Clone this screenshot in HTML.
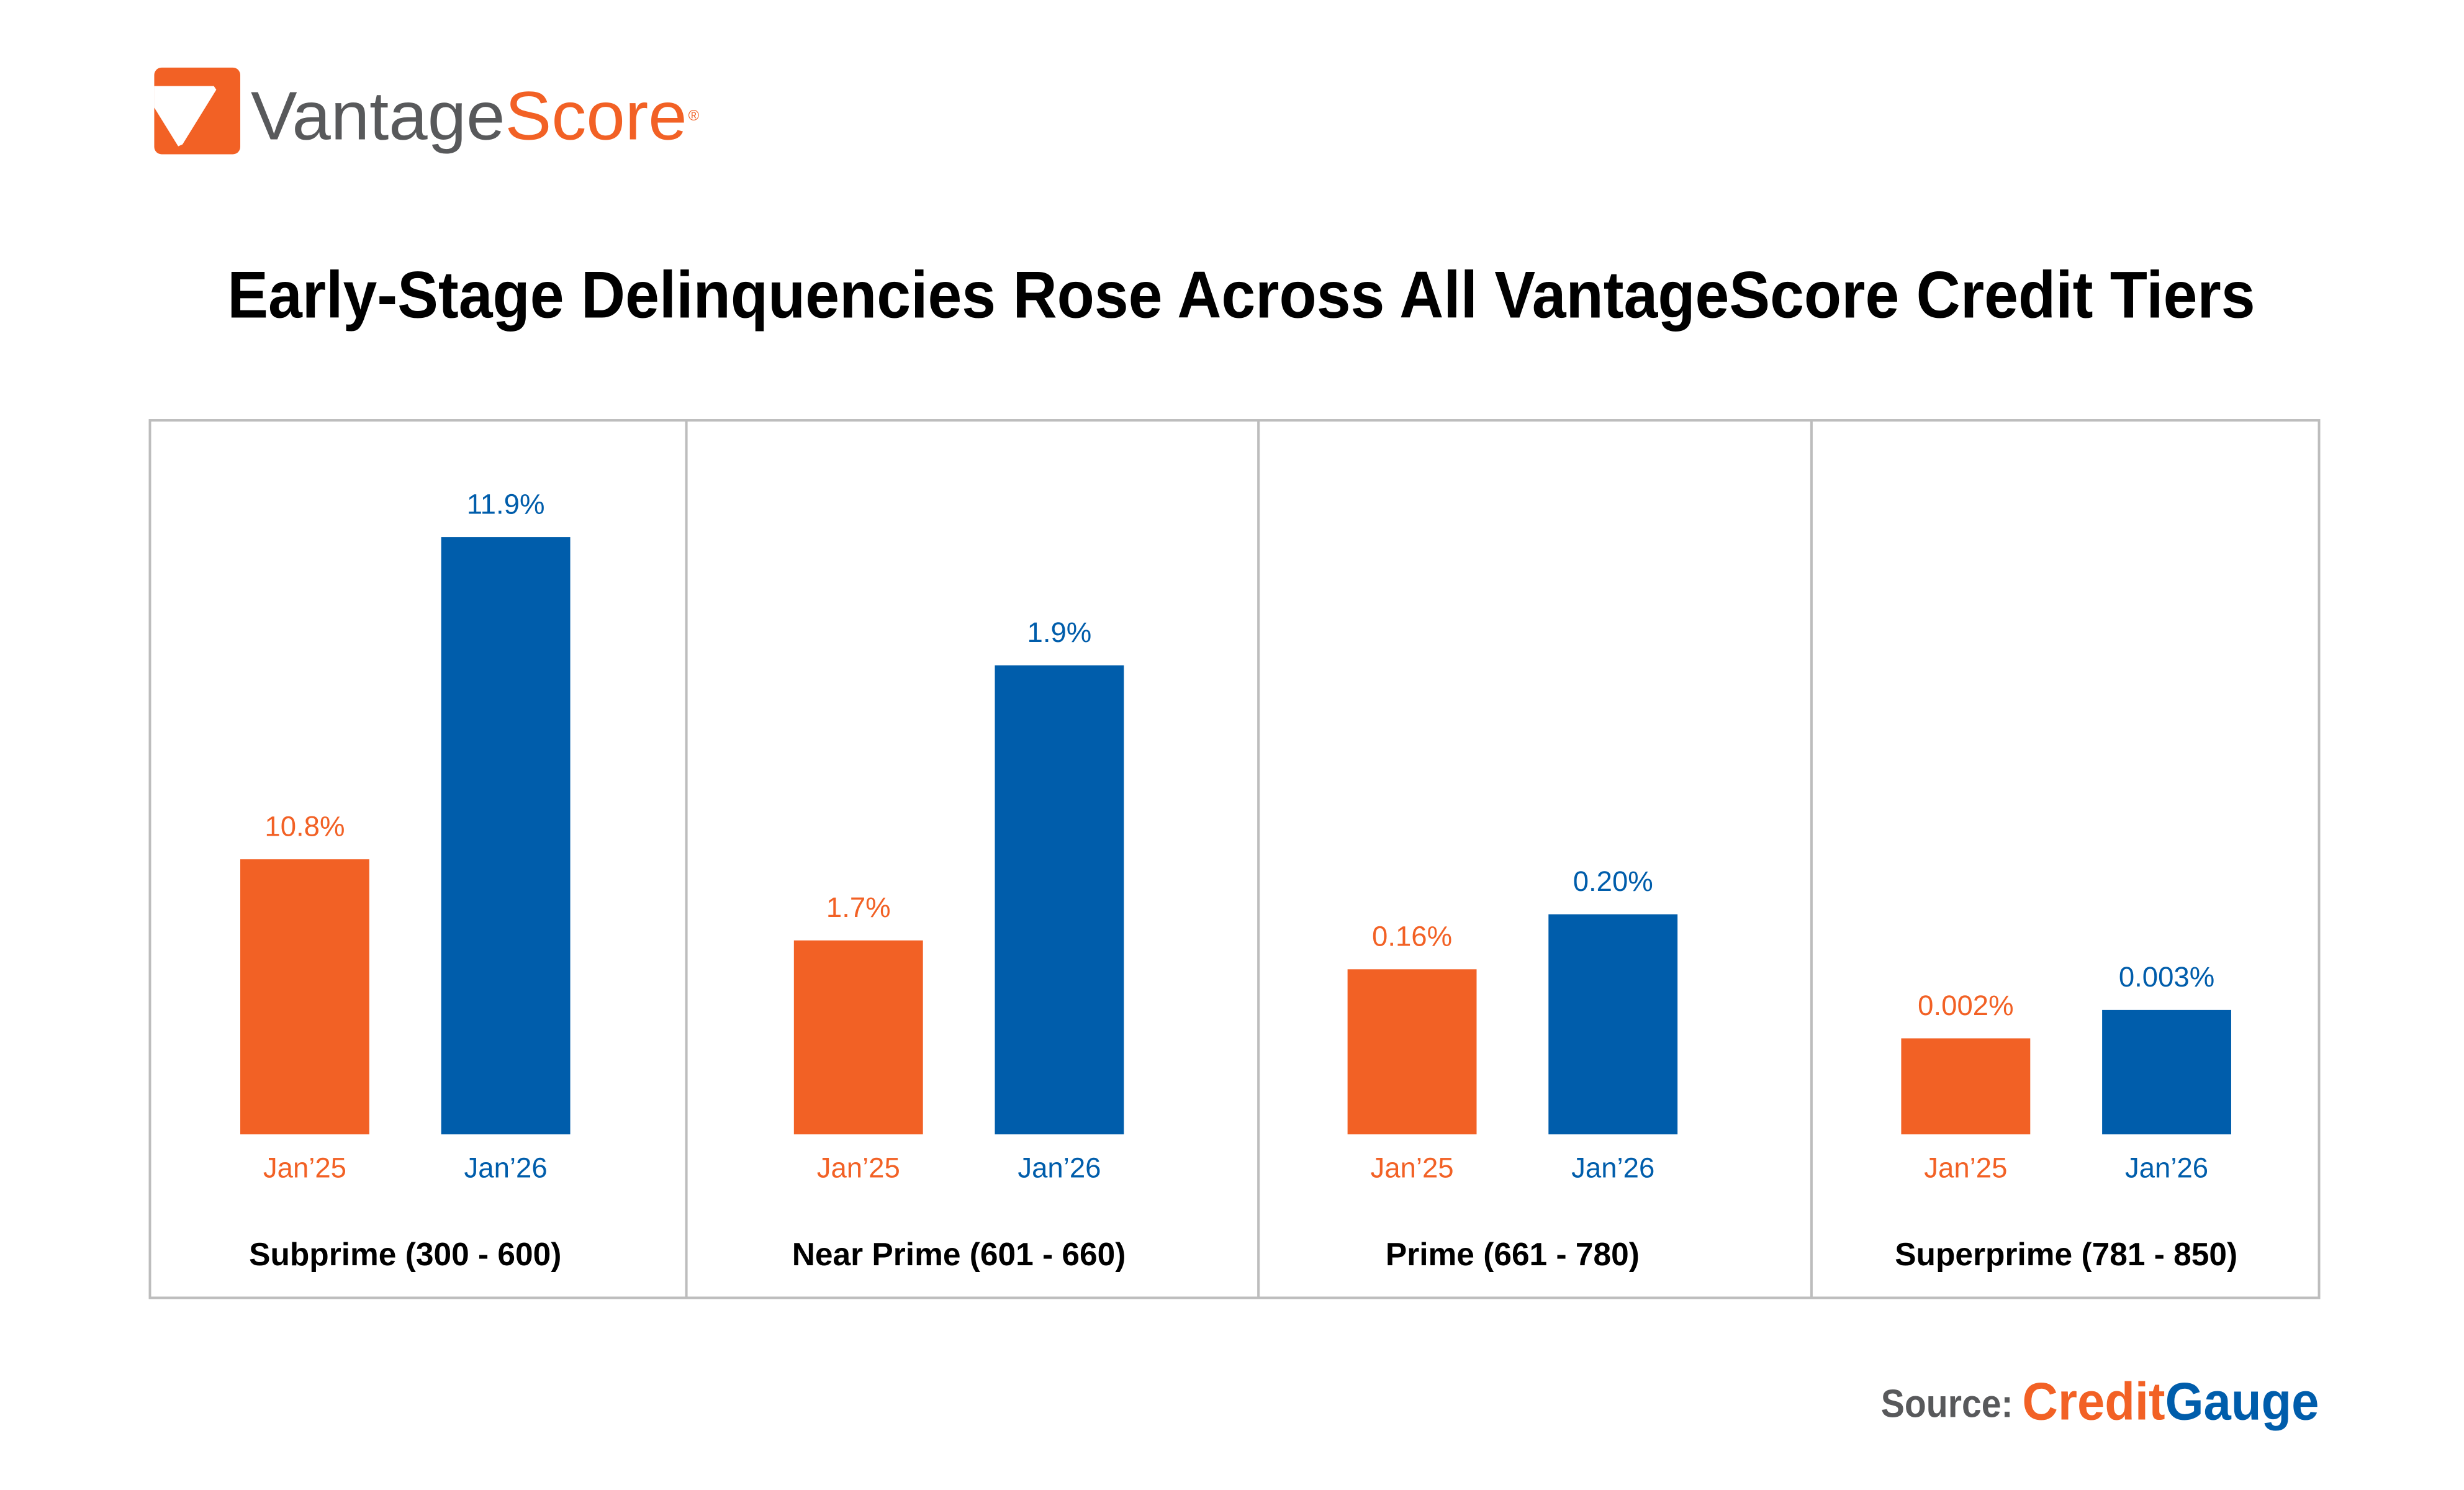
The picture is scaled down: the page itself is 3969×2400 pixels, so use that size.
<!DOCTYPE html>
<html><head><meta charset="utf-8">
<style>
html,body{margin:0;padding:0;background:#fff;}
svg{display:block;font-family:"Liberation Sans",sans-serif;}
</style></head>
<body>
<svg id="chart" width="3969" height="2400" viewBox="0 0 3969 2400" xmlns="http://www.w3.org/2000/svg">
 <g transform="scale(0.9898)">
  <g>
    <rect x="251" y="110" width="140" height="141" rx="12" fill="#F26125"/>
    <polygon points="251,140 348,140 352,146 297,235 290,238 251,175" fill="#fff"/>
    <text x="408" y="227" font-size="112" fill="#58595B" textLength="710" lengthAdjust="spacingAndGlyphs">Vantage<tspan fill="#F26125">Score</tspan></text>
    <text x="1120" y="196" font-size="24" fill="#F26125">®</text>
  </g>
  <text x="2020" y="517" text-anchor="middle" font-size="108" font-weight="bold" fill="#000" textLength="3300" lengthAdjust="spacingAndGlyphs">Early-Stage Delinquencies Rose Across All VantageScore Credit Tiers</text>
  <rect x="244" y="684" width="3530" height="1428" fill="none" stroke="#BDBDBD" stroke-width="4"/>
  <g id="dividers"></g>
  <g id="bars"></g>
  <g>
    <text x="3061" y="2306" font-size="64" font-weight="bold" fill="#58595B" textLength="215" lengthAdjust="spacingAndGlyphs">Source:</text>
    <text x="3291" y="2310" font-size="86" font-weight="bold" fill="#F26125" textLength="483" lengthAdjust="spacingAndGlyphs">Credit<tspan fill="#005DAB">Gauge</tspan></text>
  </g>
 </g>
</svg>
<script>
const categories = ["Subprime (300 - 600)", "Near Prime (601 - 660)", "Prime (661 - 780)", "Superprime (781 - 850)"];
const jan25 = [10.8, 1.7, 0.16, 0.002];
const jan26 = [11.9, 1.9, 0.20, 0.003];
const jan25Labels = ["10.8%", "1.7%", "0.16%", "0.002%"];
const jan26Labels = ["11.9%", "1.9%", "0.20%", "0.003%"];
const seriesNames = ["Jan\u201925", "Jan\u201926"];
const panelMin = [9.861, 1.559, 0.04, -0.00139];
const panelMax = [12.007, 2.016, 0.497, 0.0208];

const NS = "http://www.w3.org/2000/svg";
const baseY = 1846, plotH = 1023, barW = 210;
const panelStep = 901, firstOrange = 391, gap = 327;
const colors = ["#F26125", "#005DAB"];
function yScale(i, v) { return baseY - (v - panelMin[i]) / (panelMax[i] - panelMin[i]) * plotH; }
function xOf(i, s) { return firstOrange + i * panelStep + s * gap; }
function mk(tag, attrs, parent) { const e = document.createElementNS(NS, tag); for (const k in attrs) e.setAttribute(k, attrs[k]); parent.appendChild(e); return e; }

const div = document.getElementById("dividers");
[1117, 2048, 2948].forEach(x => {
  const l = mk("line", {x1: x, x2: x, y1: 684, y2: 2112, stroke: "#BDBDBD", "stroke-width": 4}, div);
  
  
});

const g = document.getElementById("bars");
categories.forEach((cat, i) => {
  const vals = [jan25[i], jan26[i]];
  const labs = [jan25Labels[i], jan26Labels[i]];
  vals.forEach((v, s) => {
    const x = xOf(i, s), y = yScale(i, v);
    const r = mk("rect", {x: x, y: y, width: barW, height: baseY - y, fill: colors[s]}, g);
    
    
    const t = mk("text", {x: x + barW / 2, y: y - 38, "text-anchor": "middle", "font-size": 46, fill: colors[s]}, g);
    t.textContent = labs[s];
    
    
    const xl = mk("text", {x: x + barW / 2, y: 1916, "text-anchor": "middle", "font-size": 46, fill: colors[s]}, g);
    xl.textContent = seriesNames[s];
    
    
  });
  const c = mk("text", {x: (xOf(i, 0) + xOf(i, 1) + barW) / 2, y: 2059, "text-anchor": "middle", "font-size": 52, "font-weight": "bold", fill: "#000"}, g);
  c.textContent = cat;
  
  
});
</script>
</body></html>
